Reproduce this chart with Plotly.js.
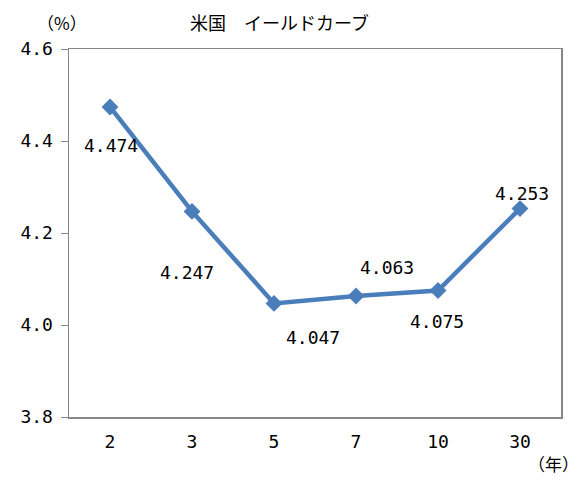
<!DOCTYPE html>
<html>
<head>
<meta charset="utf-8">
<script src="https://cdn.plot.ly/plotly-3.0.1.min.js"></script>
<style>
  html, body { margin: 0; padding: 0; background: #fff; }
  #chart { width: 580px; height: 498px; }
</style>
</head>
<body>
<div id="chart"></div>
<script>
"use strict";
// 年限と利回り
var maturities = ["2", "3", "5", "7", "10", "30"];
var yields = [4.474, 4.247, 4.047, 4.063, 4.075, 4.253];
var yTicks = [3.8, 4.0, 4.2, 4.4, 4.6];
var yTickText = ["3.8", "4.0", "4.2", "4.4", "4.6"];

// ラベルのずらし量 (px)
var labelShift = [[1, -39], [-5, -61], [39, -34], [31, 29], [-1, -31], [2, 15]];

var jpFont = "Noto Sans CJK JP, sans-serif";
var numFont = "DejaVu Sans Mono, monospace";
var lineColor = "#4A7EBB";
var frameColor = "#868686";

var trace = {
    x: maturities,
    y: yields,
    type: "scatter",
    mode: "lines+markers",
    line: {color: lineColor, width: 4.5},
    marker: {symbol: "diamond", size: 13, color: lineColor},
    hoverinfo: "skip"
};

var annotations = yields.map(function (v, i) {
    return {
        x: i, y: v, xref: "x", yref: "y",
        text: v.toFixed(3), showarrow: false,
        xshift: labelShift[i][0], yshift: labelShift[i][1],
        font: {family: numFont, size: 18, color: "#000"}
    };
});
annotations.push(
    {text: "米国　イールドカーブ", xref: "paper", yref: "paper", x: 0, y: 1, xshift: 210, yshift: 27,
     xanchor: "center", yanchor: "middle", showarrow: false,
     font: {family: jpFont, size: 18, color: "#000"}},
    {text: "（%）", xref: "paper", yref: "paper", x: 0, y: 1, xshift: -7, yshift: 27,
     xanchor: "center", yanchor: "middle", showarrow: false,
     font: {family: jpFont, size: 17, color: "#000"}},
    {text: "（年）", xref: "paper", yref: "paper", x: 1, y: 0, xshift: -8, yshift: -46,
     xanchor: "center", yanchor: "middle", showarrow: false,
     font: {family: jpFont, size: 17, color: "#000"}}
);

var layout = {
    width: 580,
    height: 498,
    margin: {l: 69, r: 19, t: 49, b: 81},
    paper_bgcolor: "#fff",
    plot_bgcolor: "#fff",
    showlegend: false,
    xaxis: {
        type: "category",
        categoryorder: "array", categoryarray: maturities,
        range: [-0.5, maturities.length - 0.5],
        showline: true, mirror: true, linecolor: frameColor, linewidth: 1.5,
        showgrid: false, ticks: "", zeroline: false,
        ticklabelstandoff: 8,
        tickfont: {family: numFont, size: 18, color: "#000"}
    },
    yaxis: {
        range: [3.8, 4.6],
        tickvals: yTicks, ticktext: yTickText,
        showline: true, mirror: true, linecolor: frameColor, linewidth: 1.5,
        showgrid: false, zeroline: false,
        ticks: "outside", ticklen: 7, tickcolor: frameColor, tickwidth: 1,
        ticklabelstandoff: 4,
        tickfont: {family: numFont, size: 18, color: "#000"}
    },
    annotations: annotations
};

Plotly.newPlot("chart", [trace], layout, {displayModeBar: false, staticPlot: true});
</script>
</body>
</html>
